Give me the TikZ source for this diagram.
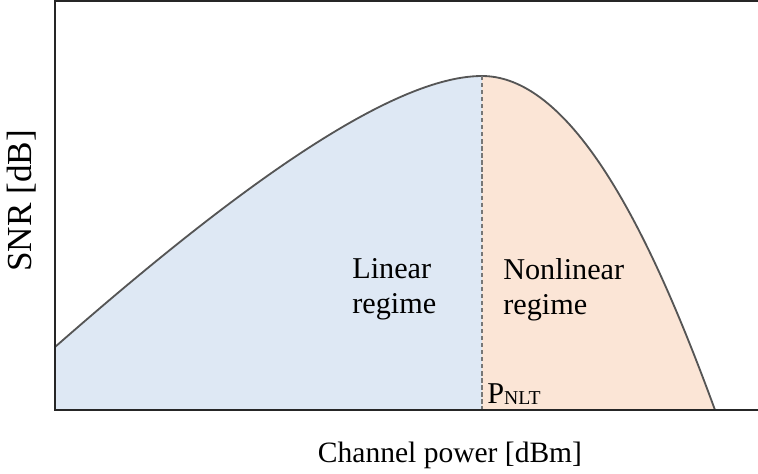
\documentclass[tikz,border=0pt]{standalone}
\usepackage{fontspec}
\setmainfont{Liberation Serif}
\usetikzlibrary{positioning}

\definecolor{linfill}{HTML}{DEE8F4}
\definecolor{nlfill}{HTML}{FBE5D6}
\definecolor{curvegray}{HTML}{555555}

\tikzstyle{axis}=[draw=black!85,line width=1.4pt]
\tikzstyle{snrcurve}=[draw=curvegray,line width=1.3pt]
\tikzstyle{regime}=[align=left,anchor=north west,inner sep=0pt,font=\fontsize{21.5}{25}\selectfont]
\tikzstyle{axlabel}=[inner sep=0pt,font=\fontsize{21}{25}\selectfont]

\begin{document}
\begin{tikzpicture}[x=0.025cm,y=-0.025cm]
	\useasboundingbox (0,0) rectangle (758,474);

	\coordinate (start) at (55,347);
	\coordinate (peak) at (482,76);
	\coordinate (stop) at (715,410);
	\coordinate (base) at (482,410);

	% shaded regimes
	\fill [linfill] (55,410) -- (start) .. controls (200,220) and (380,76) .. (peak) -- (base) -- cycle;
	\fill [nlfill] (base) -- (peak) .. controls (580,76) and (660,260) .. (stop) -- cycle;

	\draw [snrcurve] (start) .. controls (200,220) and (380,76) .. (peak)
		.. controls (580,76) and (660,260) .. (stop);
	\draw [curvegray!80,line width=1pt,dash pattern=on 3pt off 2pt] (peak) -- (base);

	% axes
	\draw [axis] (758,1) -- (55,1) -- (55,410) -- (758,410);

	\node (lin) at (352,258) [regime] {Linear\\regime};
	\node (nonlin) at (503,258) [regime] {Nonlinear\\regime};
	\node (pnlt) at (487,403) [anchor=base west,inner sep=0pt,font=\fontsize{21.5}{25}\selectfont] {P\raisebox{-1pt}{\fontsize{14}{16}\selectfont NLT}};

	\node (xlab) at (450,455) [axlabel] {Channel power [dBm]};
	\node (ylab) at (22,201) [axlabel,rotate=90,font=\fontsize{25}{29}\selectfont] {SNR [dB]};
\end{tikzpicture}
\end{document}
